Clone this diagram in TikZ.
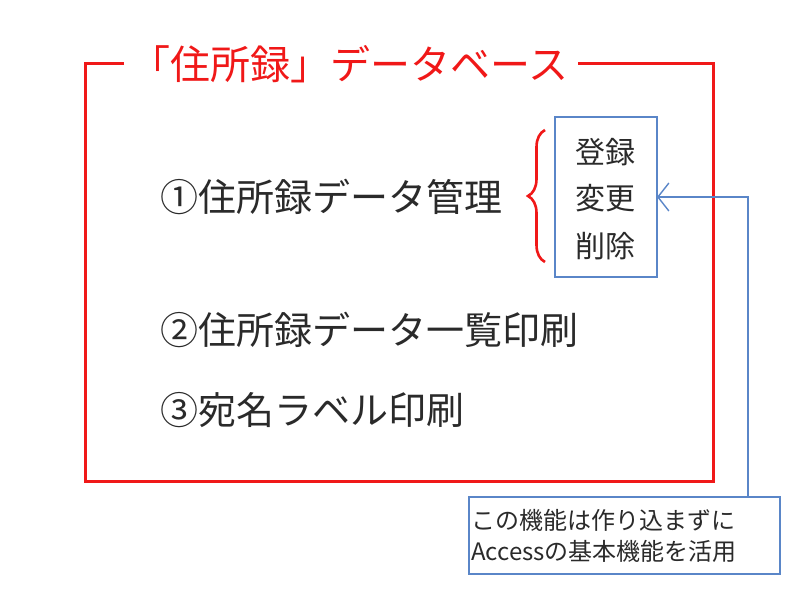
\documentclass[tikz,border=0pt]{standalone}
\usepackage{fontspec}
\setmainfont{Noto Sans CJK JP}
\usetikzlibrary{arrows.meta,decorations.pathreplacing}
\definecolor{fred}{HTML}{F01818}
\definecolor{fblue}{HTML}{5A86C8}
\definecolor{ftext}{HTML}{2A2A2A}
\tikzset{
  frameline/.style={draw=fred, line width=3pt},
  maintext/.style={anchor=west, inner sep=0pt, text=ftext, font=\fontsize{38}{41}\selectfont},
  subtext/.style={inner sep=0pt, text=ftext, font=\fontsize{30}{33}\selectfont},
  bluebox/.style={draw=fblue, line width=1.4pt},
  noteline/.style={anchor=west, inner sep=0pt, text=ftext, font=\fontsize{24}{26}\selectfont},
}
\begin{document}
\begin{tikzpicture}[x=1pt,y=1pt]
\useasboundingbox (0,0) rectangle (800,-600);
% red frame with title gap
\node[anchor=west, inner sep=0pt, text=fred, font=\fontsize{40}{44}\selectfont] (title) at (130,-64) {「住所録」データベース};
\coordinate (tl) at (85,-63);
\coordinate (tr) at (713,-63);
\coordinate (br) at (713,-481);
\coordinate (bl) at (85,-481);
\coordinate (gapl) at (124,-63);
\coordinate (gapr) at (578,-63);
\draw[frameline] (gapl) -- (tl) -- (bl) -- (br) -- (tr) -- (gapr);
% items
\node[maintext] (i1) at (160,-197) {①住所録データ管理};
\node[maintext] (i2) at (160,-330) {②住所録データ一覧印刷};
\node[maintext] (i3) at (160,-410) {③宛名ラベル印刷};
% brace
\coordinate (bb) at (545,-262);
\coordinate (bt) at (545,-130);
\draw[draw=fred, line width=2.6pt, decorate, decoration={brace, amplitude=17pt}] (bb) -- (bt);
% blue box
\draw[bluebox] (555,-117) rectangle (657,-277);
\coordinate (boxe) at (657,-197);
\node[subtext] (s1) at (605,-152) {登録};
\node[subtext] (s2) at (605,-198) {変更};
\node[subtext] (s3) at (605,-246) {削除};
% note
\draw[bluebox] (469,-497) rectangle (780,-574);
\coordinate (notetop) at (748,-497);
\coordinate (turn) at (748,-197);
\node[noteline] (n1) at (471,-520) {この機能は作り込まずに};
\node[noteline] (n2) at (471,-551) {Accessの基本機能を活用};
% connector
\draw[fblue, line width=1.4pt, -{Straight Barb[length=11pt,width=28pt]}] (notetop) -- (turn) -- (boxe);
\end{tikzpicture}
\end{document}
